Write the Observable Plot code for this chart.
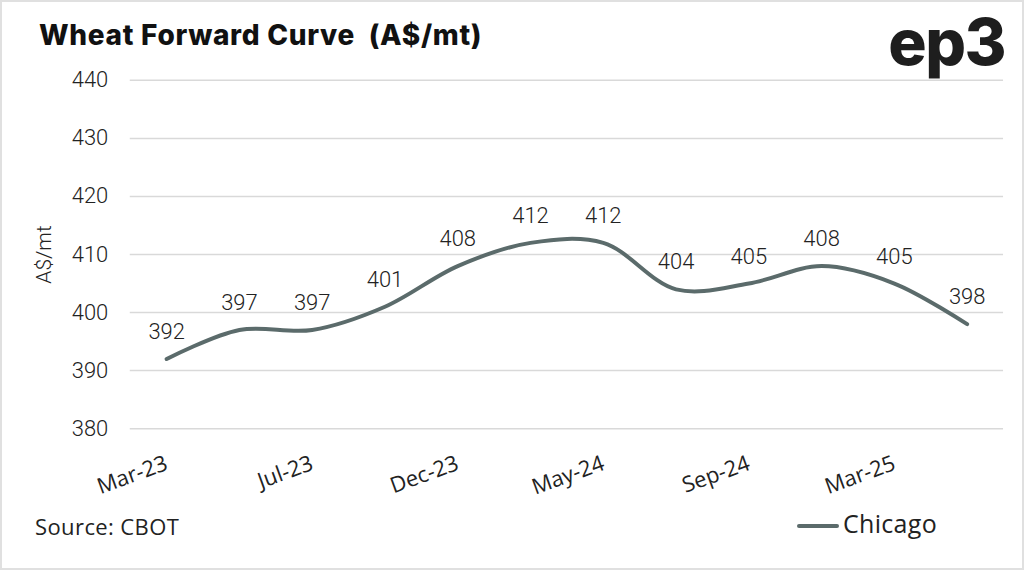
<!DOCTYPE html>
<html>
<head>
<meta charset="utf-8">
<script src="https://cdn.jsdelivr.net/npm/d3@7"></script>
<script src="https://cdn.jsdelivr.net/npm/@observablehq/plot@0.6"></script>
<style>
  html, body { margin: 0; padding: 0; background: #fff; }
  #wrap { position: relative; width: 1024px; height: 570px; box-sizing: border-box; border: 2px solid #e0e0e0; overflow: hidden; }
  #chart { position: absolute; left: -2px; top: -2px; }
  .title { position: absolute; left: 37px; top: 16px; font-family: Inter, "Noto Sans", sans-serif; font-weight: 800; font-size: 28px; color: #111; letter-spacing: 0.7px; white-space: pre; }
  .logo { position: absolute; right: 17px; top: 1px; font-family: Inter, "Noto Sans", sans-serif; font-weight: 800; font-size: 64px; color: #1e1e1e; letter-spacing: -1.5px; }
  .source { position: absolute; left: 33px; top: 509px; font-family: "Open Sans", "Noto Sans", sans-serif; font-size: 22px; color: #222; letter-spacing: 0.4px; }
  .legend { position: absolute; left: 795px; top: 504px; font-family: "Open Sans", "Noto Sans", sans-serif; font-size: 25px; color: #222; display: flex; align-items: center; letter-spacing: 0.3px; }
  .legend .sw { width: 42px; height: 4px; background: #5b6b6b; border-radius: 2px; margin-right: 4px; position: relative; top: 3px; }
</style>
</head>
<body>
<div id="wrap">
  <div id="chart"></div>
  <div class="title">Wheat Forward Curve  (A$/mt)</div>
  <div class="logo">ep3</div>
  <div class="source">Source: CBOT</div>
  <div class="legend"><span class="sw"></span><span>Chicago</span></div>
</div>
<script>
const months = ["Mar-23","May-23","Jul-23","Sep-23","Dec-23","Mar-24","May-24","Jul-24","Sep-24","Dec-24","Mar-25","May-25"];
const chicago = [392, 397, 397, 401, 408, 412, 412, 404, 405, 408, 405, 398];
const tickLabels = ["Mar-23","Jul-23","Dec-23","May-24","Sep-24","Mar-25"];
const yTicks = [380, 390, 400, 410, 420, 430, 440];

const data = months.map((m, i) => ({month: m, value: chicago[i]}));

const lineColor = "#5b6b6b";

const chart = Plot.plot({
  width: 1024,
  height: 570,
  marginLeft: 130,
  marginRight: 19,
  marginTop: 80,
  marginBottom: 141,
  style: {fontFamily: "Roboto, 'Noto Sans', sans-serif", fontSize: "22px", color: "#222", background: "transparent"},
  x: {type: "point", domain: months, padding: 0.5, round: false},
  y: {domain: [380, 440]},
  marks: [
    Plot.ruleY(yTicks, {stroke: "#d9d9d9", strokeWidth: 1.5}),
    Plot.axisY({ticks: yTicks, tickSize: 0, tickPadding: 22, label: null, fontSize: 22, fontWeight: 300}),
    Plot.axisX({ticks: tickLabels, tickSize: 0, tickPadding: 34, tickRotate: -20, label: null, fontSize: 22, fontFamily: "'Open Sans', sans-serif", style: {letterSpacing: "0.5px"}}),
    Plot.line(data, {x: "month", y: "value", stroke: lineColor, strokeWidth: 4, curve: "catmull-rom"}),
    Plot.text(data, {x: "month", y: "value", text: d => String(d.value), dy: -27, fontSize: 22, fontWeight: 300, fill: "#222"}),
    Plot.text(["A$/mt"], {frameAnchor: "left", textAnchor: "middle", dx: -86, rotate: -90, fontSize: 21, fontWeight: 300, fill: "#222"})
  ]
});
document.getElementById("chart").appendChild(chart);
</script>
</body>
</html>
